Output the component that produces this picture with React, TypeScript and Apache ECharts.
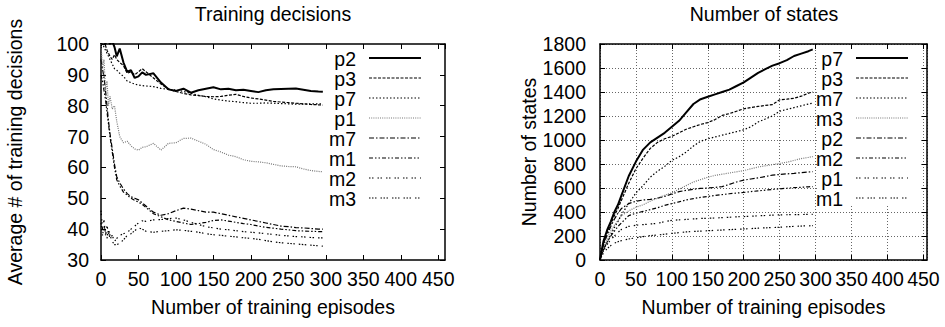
import React, { useEffect, useRef } from 'react';
import * as echarts from 'echarts';

const FONT = '"Liberation Sans", Arial, Helvetica, sans-serif';
const FS = 19.5;

// ---------- Left chart: Training decisions ----------
const leftEpisodes = [0, 2, 4, 6, 8, 10, 12, 15, 18, 21, 25, 30, 35, 40, 45, 50, 55, 60, 70, 80, 90, 100, 110, 120, 130, 140, 150, 160, 170, 180, 190, 200, 210, 220, 230, 240, 250, 260, 270, 280, 290, 296];
const leftNames = ['p2', 'p3', 'p7', 'p1', 'm7', 'm1', 'm2', 'm3'];
const leftP2 = [100, 102, 101, 100, 102, 101, 100, 101, 99, 96, 98.5, 94, 91, 91.5, 89, 89.5, 90.8, 90, 90.5, 87.5, 85.3, 84.8, 85.5, 84.2, 85, 85.5, 86, 85.3, 85.5, 85, 85.2, 84.8, 84.4, 85, 85.3, 85.4, 85.5, 85.6, 85.2, 84.8, 84.6, 84.5];
const leftP3 = [100, 100, 100, 99.5, 98, 97, 96, 95, 96.5, 95, 94, 93, 90.5, 91, 90, 91, 92, 91, 89, 87, 85.5, 84.6, 84, 83.5, 83.3, 83, 82.9, 83, 83.4, 83.7, 83, 82.5, 82.2, 81.8, 81.4, 81.2, 81, 80.8, 80.6, 80.4, 80.3, 80.2];
const leftP7 = [100, 100, 99, 98, 97, 96, 95, 93.5, 92, 91.5, 90.5, 89.5, 88, 87.5, 87, 86.7, 86.5, 86.4, 86.2, 85.6, 85.3, 85.1, 84.6, 84, 83.4, 82.9, 82.2, 81.8, 81.5, 81.3, 81, 80.8, 80.8, 80.9, 80.8, 80.7, 80.6, 80.5, 80.5, 80.6, 80.6, 80.6];
const leftP1 = [100, 92, 95, 85, 88, 80, 83, 79, 80, 75, 70, 68, 68.5, 67, 66, 65.6, 66.5, 66.7, 67.8, 65.6, 67.8, 68, 69.4, 69.5, 68.5, 67.5, 65.8, 65, 64, 63.5, 62.5, 62, 61.8, 61.5, 61, 60.5, 60.3, 60.2, 59.5, 59, 58.7, 58.6];
const leftM7 = [95, 92, 89, 85, 80, 75, 71, 66, 61, 57, 55, 53, 51.5, 50.5, 50, 49.5, 48.5, 47.5, 45.5, 44.5, 45, 46, 46.8, 46.5, 46, 45.5, 45.5, 45, 44.5, 44, 43.5, 43, 42.5, 42, 41.5, 41, 40.8, 40.5, 40.4, 40.2, 40, 40];
const leftM1 = [90, 88, 85, 82, 78, 74, 70, 65, 60, 56, 54, 52, 51, 50, 49.3, 48.8, 48, 47, 45, 44, 43, 42.5, 42, 41.5, 41.8, 42.2, 42.8, 43, 42.6, 42.2, 41.8, 41.5, 41, 40.6, 40.3, 40, 39.8, 39.5, 39.4, 39.3, 39.2, 39.2];
const leftM2 = [46, 40, 43, 38, 41, 39, 37, 38, 36, 37, 38, 38.5, 39, 40, 41, 42, 42.7, 42.5, 43, 43.1, 43.4, 43.6, 43, 42.2, 41.5, 40.8, 40.4, 40, 39.8, 39.5, 39.2, 39, 38.8, 38.5, 38.3, 38, 37.8, 37.6, 37.5, 37.3, 37.2, 37.2];
const leftM3 = [42, 38, 41, 39, 37, 40, 38, 36, 35, 34.9, 35.5, 36.5, 38, 38.5, 39.5, 40.4, 40, 39.3, 39, 39.3, 39.5, 39.8, 39.6, 39.3, 39, 38.5, 38.2, 38, 37.7, 37.5, 37.2, 37, 36.7, 36.3, 35.9, 35.6, 35.4, 35.2, 35, 34.8, 34.6, 34.5];
const leftValues = [leftP2, leftP3, leftP7, leftP1, leftM7, leftM1, leftM2, leftM3];

// ---------- Right chart: Number of states ----------
const rightEpisodes = [0, 2, 5, 10, 15, 20, 25, 30, 40, 50, 60, 70, 80, 90, 100, 110, 120, 130, 140, 150, 160, 170, 180, 190, 200, 210, 220, 230, 240, 250, 260, 270, 280, 290, 296];
const rightNames = ['p7', 'p3', 'm7', 'm3', 'p2', 'm2', 'p1', 'm1'];
const rightP7 = [0, 70, 160, 250, 320, 400, 460, 540, 700, 820, 920, 980, 1020, 1060, 1110, 1160, 1230, 1300, 1340, 1360, 1380, 1400, 1420, 1450, 1480, 1520, 1560, 1590, 1620, 1640, 1665, 1700, 1720, 1740, 1755];
const rightP3 = [0, 60, 140, 230, 300, 370, 430, 500, 640, 760, 850, 930, 980, 1010, 1030, 1060, 1090, 1110, 1130, 1145, 1170, 1205, 1220, 1240, 1260, 1270, 1280, 1288, 1295, 1335, 1340, 1348, 1365, 1390, 1400];
const rightM7 = [0, 40, 90, 150, 210, 270, 320, 380, 470, 560, 620, 690, 740, 780, 830, 860, 900, 950, 990, 1010, 1025, 1040, 1055, 1070, 1085, 1110, 1150, 1175, 1200, 1240, 1255, 1270, 1285, 1300, 1306];
const rightM3 = [0, 50, 110, 180, 240, 290, 330, 370, 410, 440, 460, 490, 515, 540, 560, 590, 620, 650, 670, 690, 705, 715, 725, 735, 745, 760, 775, 785, 795, 805, 815, 830, 845, 855, 862];
const rightP2 = [0, 60, 130, 210, 280, 340, 390, 430, 470, 490, 500, 505, 515, 530, 550, 570, 580, 590, 597, 600, 605, 612, 630, 650, 665, 675, 685, 695, 708, 712, 718, 722, 728, 733, 736];
const rightM2 = [0, 40, 90, 150, 200, 240, 280, 310, 370, 390, 405, 420, 435, 455, 470, 485, 500, 512, 522, 530, 538, 545, 552, 558, 563, 570, 576, 582, 588, 593, 598, 603, 606, 610, 612];
const rightP1 = [0, 40, 80, 130, 170, 200, 230, 255, 280, 290, 295, 300, 305, 320, 330, 335, 338, 342, 346, 348, 350, 353, 356, 360, 362, 365, 368, 371, 374, 376, 377, 378, 379, 380, 381];
const rightM1 = [0, 30, 60, 95, 120, 140, 152, 162, 175, 185, 195, 203, 208, 215, 222, 228, 234, 238, 241, 244, 247, 250, 253, 256, 259, 262, 265, 268, 270, 273, 277, 280, 283, 285, 286];
const rightValues = [rightP7, rightP3, rightM7, rightM3, rightP2, rightM2, rightP1, rightM1];

// gnuplot-like line types 1..8
const LINE_TYPES: { dash: number[] | null; width: number; color: string }[] = [
  { dash: null, width: 2, color: '#000' },
  { dash: [3, 1.5], width: 1.2, color: '#000' },
  { dash: [1.5, 2], width: 1.2, color: '#000' },
  { dash: [1, 1.2], width: 1.2, color: '#777' },
  { dash: [5, 2, 1.5, 2], width: 1.2, color: '#000' },
  { dash: [4, 2, 1.5, 2, 1.5, 2], width: 1.2, color: '#000' },
  { dash: [1.5, 1.5, 1.5, 4], width: 1.2, color: '#000' },
  { dash: [1.5, 1.5, 1.5, 1.5, 1.5, 4], width: 1.2, color: '#000' },
];

const GRIDS = [
  { left: 101, top: 44, width: 344, height: 216 },
  { left: 600, top: 44, width: 327, height: 216 },
];

export default function App() {
  const ref = useRef<HTMLDivElement>(null);
  useEffect(() => {
    if (!ref.current) return;
    const chart = echarts.init(ref.current, undefined, { renderer: 'svg' });

    const labelStyle = { fontFamily: FONT, fontSize: FS, color: '#000' };
    const axisLine = { show: true, onZero: false, lineStyle: { color: '#000', width: 1.5 } };
    const tick = { show: true, inside: true, length: 5, lineStyle: { color: '#000', width: 1 } };
    const gridDots = { show: true, lineStyle: { color: '#666', width: 1, type: [1, 2] as any } };
    const plain = (v: number) => String(v);

    const xAxisBase = (gi: number, max: number, grid: boolean) => [
      {
        gridIndex: gi, type: 'value', position: 'bottom', min: 0, max, interval: 50,
        axisLine, axisTick: tick,
        axisLabel: { ...labelStyle, margin: 9, showMaxLabel: false, formatter: plain },
        splitLine: grid ? gridDots : { show: false },
        name: 'Number of training episodes', nameLocation: 'middle', nameGap: 37,
        nameTextStyle: labelStyle,
      },
      {
        gridIndex: gi, type: 'value', position: 'top', min: 0, max, interval: 50,
        axisLine, axisTick: tick, axisLabel: { show: false }, splitLine: { show: false },
      },
    ];
    const yAxisBase = (gi: number, min: number, max: number, interval: number, name: string, gap: number, margin: number, grid: boolean) => [
      {
        gridIndex: gi, type: 'value', position: 'left', min, max, interval,
        axisLine, axisTick: tick,
        axisLabel: { ...labelStyle, margin, formatter: plain },
        splitLine: grid ? gridDots : { show: false },
        name, nameLocation: 'middle', nameGap: gap, nameTextStyle: labelStyle,
      },
      {
        gridIndex: gi, type: 'value', position: 'right', min, max, interval,
        axisLine, axisTick: tick, axisLabel: { show: false }, splitLine: { show: false },
      },
    ];

    const mkSeries = (names: string[], values: number[][], episodes: number[], xi: number, yi: number) =>
      names.map((name, k) => {
        const lt = LINE_TYPES[k];
        return {
          name, type: 'line', xAxisIndex: xi, yAxisIndex: yi,
          showSymbol: false, symbol: 'none', clip: true, z: 10 - k,
          lineStyle: { color: lt.color, width: lt.width, type: (lt.dash ?? 'solid') as any },
          data: episodes.map((e, i) => [e, values[k][i]]),
        };
      });

    const legendGraphics = (names: string[], textRight: number, lineX1: number, lineX2: number) =>
      names.flatMap((name, k) => {
        const lt = LINE_TYPES[k];
        return [
          {
            type: 'text', x: textRight, y: 59 + 20 * k, z: 20,
            style: { text: name, align: 'right', verticalAlign: 'middle', fontFamily: FONT, fontSize: FS, fill: '#000' },
          },
          {
            type: 'line', z: 20,
            shape: { x1: lineX1, y1: 58 + 20 * k, x2: lineX2, y2: 58 + 20 * k },
            style: { stroke: lt.color, lineWidth: lt.width, lineDash: lt.dash ?? null },
          },
        ];
      });

    const option: any = {
      animation: false,
      backgroundColor: '#fff',
      grid: GRIDS,
      xAxis: [...xAxisBase(0, 459, false), ...xAxisBase(1, 455, true)],
      yAxis: [
        ...yAxisBase(0, 30, 100, 10, 'Average # of training decisions', 76, 12, false),
        ...yAxisBase(1, 0, 1800, 200, 'Number of states', 45, 14, true),
      ],
      series: [
        ...mkSeries(leftNames, leftValues, leftEpisodes, 0, 0),
        ...mkSeries(rightNames, rightValues, rightEpisodes, 2, 2),
      ],
      graphic: [
        {
          type: 'text', x: 273, y: 14, z: 20,
          style: { text: 'Training decisions', align: 'center', verticalAlign: 'middle', fontFamily: FONT, fontSize: FS, fill: '#000' },
        },
        {
          type: 'text', x: 764, y: 14, z: 20,
          style: { text: 'Number of states', align: 'center', verticalAlign: 'middle', fontFamily: FONT, fontSize: FS, fill: '#000' },
        },
        {
          type: 'rect', z: 15,
          shape: { x: 818, y: 49.5, width: 103, height: 156 },
          style: { fill: '#fff' },
        },
        ...legendGraphics(leftNames, 356, 369, 421),
        ...legendGraphics(rightNames, 843, 856, 908),
      ],
    };
    chart.setOption(option);
    return () => chart.dispose();
  }, []);

  return (
    <div
      ref={ref}
      style={{ position: 'fixed', left: 0, top: 0, width: 945, height: 327, background: '#fff' }}
    />
  );
}
